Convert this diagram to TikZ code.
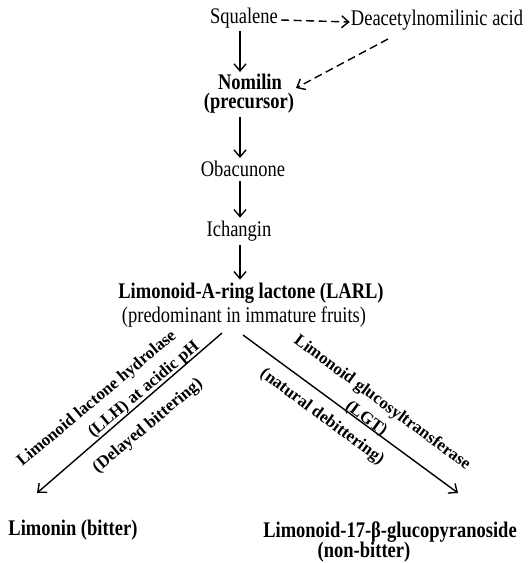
\documentclass[tikz,border=0pt]{standalone}
\usepackage{fontspec}
\setmainfont{Liberation Serif}[FakeStretch=0.83]
\newfontfamily\enzfont{Liberation Serif}
\usetikzlibrary{arrows.meta}
\begin{document}
\begin{tikzpicture}[x=1pt,y=-1pt,
	every node/.style={inner sep=0pt,font=\fontsize{22.3}{26}\selectfont},
	bnode/.style={font=\fontsize{22.3}{26}\selectfont\bfseries},
	enz/.style={font=\enzfont\fontsize{17}{20}\selectfont\bfseries},
	arr/.style={line width=1.4pt,-{Straight Barb[length=7pt,width=12pt]}},
	darr/.style={arr,dash pattern=on 8pt off 4.5pt}]
	\useasboundingbox (0,0) rectangle (528,563);

	\node at (244,18) (sq) {Squalene};
	\node at (437,20) (dna) {Deacetylnomilinic acid};
	\node[bnode] at (250,82) (nom) {Nomilin};
	\node[bnode] at (249,103) (pre) {(precursor)};
	\node at (243,169) (oba) {Obacunone};
	\node at (239,231) (ich) {Ichangin};
	\node[bnode] at (251,293) (larl) {Limonoid-A-ring lactone (LARL)};
	\node at (244,317) (pred) {(predominant in immature fruits)};
	\node[bnode] at (73,530) (lim) {Limonin (bitter)};
	\node[bnode] at (390,532) (glu) {Limonoid-17-β-glucopyranoside};
	\node[bnode] at (364,552) (nb) {(non-bitter)};

	\coordinate (col) at (240,0);
	\coordinate (ltop) at (222,333);
	\coordinate (lend) at (37,493);
	\coordinate (rtop) at (243,335);
	\coordinate (rend) at (458,493);
	\coordinate (dtop) at (388,39);
	\coordinate (dend) at (296,88);

	\node[enz,rotate=40] at (97,399) (llh) {Limonoid lactone hydrolase};
	\node[enz,rotate=40] at (144,390) (ph) {(LLH) at acidic pH};
	\node[enz,rotate=40] at (148,426) (delay) {(Delayed bittering)};
	\node[enz,rotate=-36.5] at (382,403) (lgt) {Limonoid glucosyltransferase};
	\node[enz,rotate=-36.5] at (366,419) (lgtab) {(LGT)};
	\node[enz,rotate=-36.5] at (322,417) (nat) {(natural debittering)};

	\draw[darr]	([xshift=3pt,yshift=-2pt]sq.east) -- ([xshift=-1pt,yshift=-2pt]dna.west);
	\draw[darr]	(dtop) -- (dend);
	\draw[arr]	([yshift=-3pt]sq.south -| col) -- ([yshift=2pt]nom.north -| col);
	\draw[arr]	([yshift=-4pt]pre.south -| col) -- ([yshift=3pt]oba.north -| col);
	\draw[arr]	([yshift=-4pt]oba.south -| col) -- ([yshift=3pt]ich.north -| col);
	\draw[arr]	([yshift=-4pt]ich.south -| col) -- ([yshift=3pt]larl.north -| col);
	\draw[arr]	(ltop) -- (lend);
	\draw[arr]	(rtop) -- (rend);
\end{tikzpicture}
\end{document}
